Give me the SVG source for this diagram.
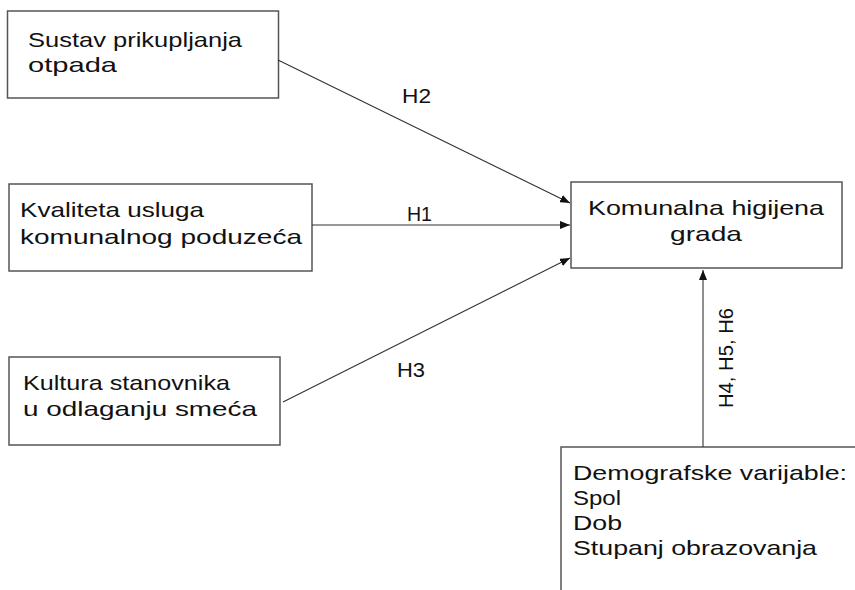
<svg xmlns="http://www.w3.org/2000/svg" width="855" height="590" viewBox="0 0 855 590">
<style>
.box{fill:#fff;stroke:#555;stroke-width:1.5}
.t{font-family:"Liberation Sans",Arial,sans-serif;font-size:21px;fill:#111}
.lbl{font-family:"Liberation Sans",Arial,sans-serif;font-size:20px;fill:#111}
.c{stroke:#333;stroke-width:1.1;fill:none}
</style>
<defs>
<marker id="ah" viewBox="0 0 10 8" refX="10" refY="4" markerWidth="10" markerHeight="8" markerUnits="userSpaceOnUse" orient="auto">
<path d="M0,0 L10,4 L0,8 Z" fill="#111"/>
</marker>
</defs>
<rect width="855" height="590" fill="#fff"/>
<g id="n1">
<rect class="box" x="7.5" y="11" width="271" height="87"/>
<text class="t" x="28" y="47" textLength="214" lengthAdjust="spacingAndGlyphs">Sustav prikupljanja</text>
<text class="t" x="28" y="72" textLength="89" lengthAdjust="spacingAndGlyphs">otpada</text>
</g>
<g id="n2">
<rect class="box" x="9" y="184" width="303" height="87"/>
<text class="t" x="20" y="217" textLength="184" lengthAdjust="spacingAndGlyphs">Kvaliteta usluga</text>
<text class="t" x="20" y="244" textLength="282" lengthAdjust="spacingAndGlyphs">komunalnog poduzeća</text>
</g>
<g id="n3">
<rect class="box" x="9" y="357" width="271" height="88"/>
<text class="t" x="23" y="390" textLength="207" lengthAdjust="spacingAndGlyphs">Kultura stanovnika</text>
<text class="t" x="23" y="416" textLength="234" lengthAdjust="spacingAndGlyphs">u odlaganju smeća</text>
</g>
<g id="n4">
<rect class="box" x="571" y="182" width="271" height="86"/>
<text class="t" x="588" y="215" textLength="236" lengthAdjust="spacingAndGlyphs">Komunalna higijena</text>
<text class="t" x="670" y="241" textLength="72" lengthAdjust="spacingAndGlyphs">grada</text>
</g>
<g id="n5">
<rect class="box" x="561" y="447" width="340" height="200"/>
<text class="t" x="573" y="480" textLength="274" lengthAdjust="spacingAndGlyphs">Demografske varijable:</text>
<text class="t" x="573" y="505" textLength="48" lengthAdjust="spacingAndGlyphs">Spol</text>
<text class="t" x="573" y="530" textLength="49" lengthAdjust="spacingAndGlyphs">Dob</text>
<text class="t" x="573" y="555" textLength="244" lengthAdjust="spacingAndGlyphs">Stupanj obrazovanja</text>
</g>
<g id="connectors">
<line class="c" x1="278" y1="60" x2="570" y2="203" marker-end="url(#ah)"/>
<line class="c" x1="312" y1="225" x2="570" y2="225" marker-end="url(#ah)"/>
<line class="c" x1="283" y1="402" x2="570" y2="258" marker-end="url(#ah)"/>
<line class="c" x1="703" y1="447" x2="703" y2="270" marker-end="url(#ah)"/>
<text class="lbl" x="402" y="103" textLength="29" lengthAdjust="spacingAndGlyphs">H2</text>
<text class="lbl" x="407" y="221" textLength="25" lengthAdjust="spacingAndGlyphs">H1</text>
<text class="lbl" x="397" y="377" textLength="28" lengthAdjust="spacingAndGlyphs">H3</text>
<text class="lbl" transform="translate(733,408) rotate(-90)" x="0" y="0" textLength="100" lengthAdjust="spacingAndGlyphs">H4, H5, H6</text>
</g>
</svg>
